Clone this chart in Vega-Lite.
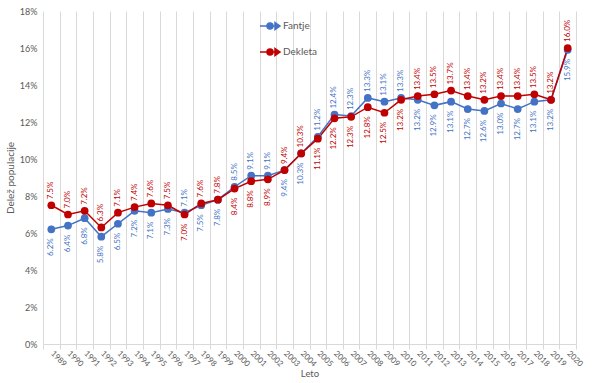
{
  "$schema": "https://vega.github.io/schema/vega-lite/v6.json",
  "width": 533,
  "height": 333,
  "autosize": {"type": "none"},
  "padding": {"left": 43, "top": 11, "right": 26, "bottom": 39},
  "background": "white",
  "config": {
    "font": "Lato",
    "view": {"stroke": null},
    "axis": {"labelColor": "#595959", "titleColor": "#595959", "titleFontWeight": "normal", "labelFont": "Lato", "titleFont": "Lato"},
    "axisY": {"labelOverlap": false, "labelFlush": false, "grid": false, "domain": false, "ticks": false, "labelFontSize": 9, "labelPadding": 6, "titlePadding": 4, "titleFontSize": 10},
    "legend": {"labelColor": "#595959", "labelFont": "Lato"}
  },
  "data": {
    "values": [
      {"year": "1989", "Fantje": 0.062, "Dekleta": 0.075},
      {"year": "1990", "Fantje": 0.064, "Dekleta": 0.070},
      {"year": "1991", "Fantje": 0.068, "Dekleta": 0.072},
      {"year": "1992", "Fantje": 0.058, "Dekleta": 0.063},
      {"year": "1993", "Fantje": 0.065, "Dekleta": 0.071},
      {"year": "1994", "Fantje": 0.072, "Dekleta": 0.074},
      {"year": "1995", "Fantje": 0.071, "Dekleta": 0.076},
      {"year": "1996", "Fantje": 0.073, "Dekleta": 0.075},
      {"year": "1997", "Fantje": 0.071, "Dekleta": 0.070},
      {"year": "1998", "Fantje": 0.075, "Dekleta": 0.076},
      {"year": "1999", "Fantje": 0.078, "Dekleta": 0.078},
      {"year": "2000", "Fantje": 0.085, "Dekleta": 0.084},
      {"year": "2001", "Fantje": 0.091, "Dekleta": 0.088},
      {"year": "2002", "Fantje": 0.091, "Dekleta": 0.089},
      {"year": "2003", "Fantje": 0.094, "Dekleta": 0.094},
      {"year": "2004", "Fantje": 0.103, "Dekleta": 0.103},
      {"year": "2005", "Fantje": 0.112, "Dekleta": 0.111},
      {"year": "2006", "Fantje": 0.124, "Dekleta": 0.122},
      {"year": "2007", "Fantje": 0.1232, "Dekleta": 0.1228},
      {"year": "2008", "Fantje": 0.133, "Dekleta": 0.128},
      {"year": "2009", "Fantje": 0.131, "Dekleta": 0.125},
      {"year": "2010", "Fantje": 0.133, "Dekleta": 0.132},
      {"year": "2011", "Fantje": 0.132, "Dekleta": 0.134},
      {"year": "2012", "Fantje": 0.129, "Dekleta": 0.135},
      {"year": "2013", "Fantje": 0.131, "Dekleta": 0.137},
      {"year": "2014", "Fantje": 0.127, "Dekleta": 0.134},
      {"year": "2015", "Fantje": 0.126, "Dekleta": 0.132},
      {"year": "2016", "Fantje": 0.130, "Dekleta": 0.134},
      {"year": "2017", "Fantje": 0.127, "Dekleta": 0.134},
      {"year": "2018", "Fantje": 0.131, "Dekleta": 0.135},
      {"year": "2019", "Fantje": 0.132, "Dekleta": 0.132},
      {"year": "2020", "Fantje": 0.159, "Dekleta": 0.160}
    ]
  },
  "encoding": {
    "x": {
      "field": "year", "type": "ordinal",
      "scale": {"type": "band", "paddingInner": 0, "paddingOuter": 0},
      "axis": {
        "title": "Leto", "titleFontSize": 9.5, "titlePadding": 1,
        "labelAngle": 45, "labelAlign": "left", "labelBaseline": "middle", "labelFontSize": 8, "labelPadding": 3,
        "tickBand": "extent", "grid": true, "gridColor": "#d9d9d9", "gridWidth": 1,
        "domainColor": "#d9d9d9", "tickColor": "#d9d9d9", "tickSize": 5
      }
    }
  },
  "layer": [
    {
      "transform": [{"fold": ["Fantje", "Dekleta"], "as": ["series", "value"]}],
      "mark": {"type": "line", "strokeWidth": 1.5},
      "encoding": {
        "y": {"field": "value", "type": "quantitative",
          "scale": {"domain": [0, 0.18]},
          "axis": {"title": "Delež populacije", "format": "0%", "values": [0, 0.02, 0.04, 0.06, 0.08, 0.1, 0.12, 0.14, 0.16, 0.18]}},
        "color": {"field": "series", "type": "nominal",
          "scale": {"domain": ["Fantje", "Dekleta"], "range": ["#4472C4", "#C00000"]},
          "legend": {"title": null, "orient": "none", "legendX": 216, "legendY": 4, "rowPadding": 8, "labelFontSize": 10, "labelOffset": 2,
            "symbolType": "M-1,0H0.6M-0.3,0A0.3,0.3 0 1,1 0.3,0A0.3,0.3 0 1,1 -0.3,0ZM0.5,-0.35L1,0L0.5,0.35Z", "symbolSize": 400, "symbolStrokeWidth": 1.5}}
      }
    },
    {
      "transform": [{"fold": ["Fantje", "Dekleta"], "as": ["series", "value"]}],
      "mark": {"type": "point", "filled": true, "size": 60, "opacity": 1},
      "encoding": {
        "y": {"field": "value", "type": "quantitative", "axis": {"title": "Delež populacije", "format": "0%", "values": [0, 0.02, 0.04, 0.06, 0.08, 0.1, 0.12, 0.14, 0.16, 0.18]}},
        "color": {"field": "series", "type": "nominal", "legend": null}
      }
    },
    {
      "transform": [{"filter": "datum.Fantje > datum.Dekleta"}],
      "mark": {"type": "text", "angle": 270, "align": "left", "baseline": "middle", "dx": 6, "fontSize": 8, "color": "#4472C4"},
      "encoding": {"y": {"field": "Fantje", "type": "quantitative", "axis": {"title": "Delež populacije", "format": "0%", "values": [0, 0.02, 0.04, 0.06, 0.08, 0.1, 0.12, 0.14, 0.16, 0.18]}}, "text": {"field": "Fantje", "type": "quantitative", "format": ".1%"}}
    },
    {
      "transform": [{"filter": "datum.Fantje <= datum.Dekleta"}],
      "mark": {"type": "text", "angle": 270, "align": "right", "baseline": "middle", "dx": -9, "fontSize": 8, "color": "#4472C4"},
      "encoding": {"y": {"field": "Fantje", "type": "quantitative", "axis": {"title": "Delež populacije", "format": "0%", "values": [0, 0.02, 0.04, 0.06, 0.08, 0.1, 0.12, 0.14, 0.16, 0.18]}}, "text": {"field": "Fantje", "type": "quantitative", "format": ".1%"}}
    },
    {
      "transform": [{"filter": "datum.Dekleta >= datum.Fantje"}],
      "mark": {"type": "text", "angle": 270, "align": "left", "baseline": "middle", "dx": 6, "fontSize": 8, "color": "#C00000"},
      "encoding": {"y": {"field": "Dekleta", "type": "quantitative", "axis": {"title": "Delež populacije", "format": "0%", "values": [0, 0.02, 0.04, 0.06, 0.08, 0.1, 0.12, 0.14, 0.16, 0.18]}}, "text": {"field": "Dekleta", "type": "quantitative", "format": ".1%"}}
    },
    {
      "transform": [{"filter": "datum.Dekleta < datum.Fantje"}],
      "mark": {"type": "text", "angle": 270, "align": "right", "baseline": "middle", "dx": -9, "fontSize": 8, "color": "#C00000"},
      "encoding": {"y": {"field": "Dekleta", "type": "quantitative", "axis": {"title": "Delež populacije", "format": "0%", "values": [0, 0.02, 0.04, 0.06, 0.08, 0.1, 0.12, 0.14, 0.16, 0.18]}}, "text": {"field": "Dekleta", "type": "quantitative", "format": ".1%"}}
    }
  ]
}
